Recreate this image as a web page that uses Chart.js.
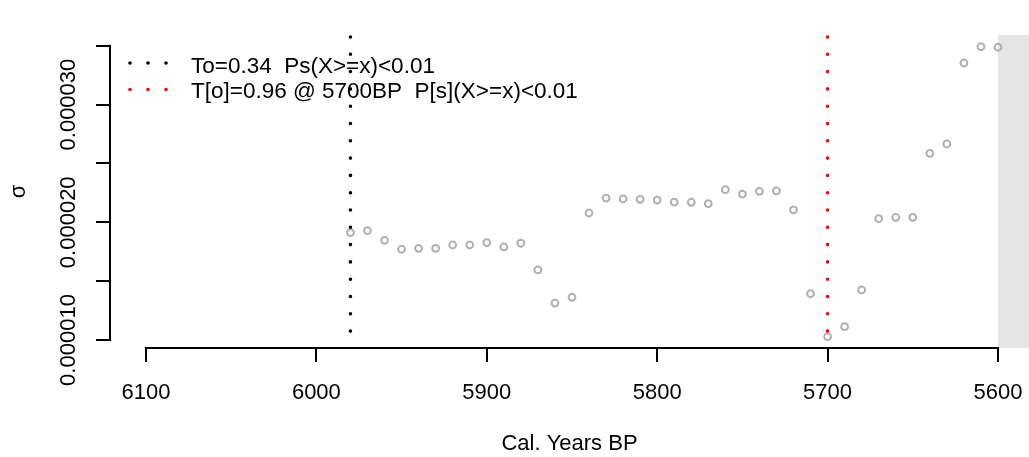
<!DOCTYPE html>
<html>
<head>
<meta charset="utf-8">
<script src="https://cdn.jsdelivr.net/npm/chart.js@4.4.0/dist/chart.umd.min.js"></script>
<style>
  html, body { margin: 0; padding: 0; background: #fff; }
  #wrap { width: 1029px; height: 457px; }
</style>
</head>
<body>
<div id="wrap"><canvas id="sigmaChart" width="1029" height="457"></canvas></div>
<script>
// sigma per 10-year step (cal. years BP)
const years = [5980, 5970, 5960, 5950, 5940, 5930, 5920, 5910, 5900, 5890,
               5880, 5870, 5860, 5850, 5840, 5830, 5820, 5810, 5800, 5790,
               5780, 5770, 5760, 5750, 5740, 5730, 5720, 5710, 5700, 5690,
               5680, 5670, 5660, 5650, 5640, 5630, 5620, 5610, 5600];
const sigma = [1.912e-5, 1.929e-5, 1.847e-5, 1.771e-5, 1.779e-5, 1.779e-5, 1.807e-5, 1.807e-5, 1.827e-5, 1.790e-5,
               1.822e-5, 1.595e-5, 1.314e-5, 1.363e-5, 2.079e-5, 2.206e-5, 2.198e-5, 2.195e-5, 2.189e-5, 2.172e-5,
               2.170e-5, 2.158e-5, 2.277e-5, 2.240e-5, 2.263e-5, 2.266e-5, 2.105e-5, 1.393e-5, 1.028e-5, 1.113e-5,
               1.425e-5, 2.031e-5, 2.042e-5, 2.042e-5, 2.586e-5, 2.665e-5, 3.353e-5, 3.492e-5, 3.487e-5];

const xTicks = [6100, 6000, 5900, 5800, 5700, 5600];
const yTicks = [0.000010, 0.000015, 0.000020, 0.000025, 0.000030, 0.000035];
const yTickLabels = ['0.000010', '', '0.000020', '', '0.000030', ''];

const markerYears = [5980, 5700];
const markerColors = ['#000000', '#ff0000'];
const legendLabels = ['To=0.34  Ps(X>=x)<0.01', 'T[o]=0.96 @ 5700BP  P[s](X>=x)<0.01'];
const shadeFrom = 5600;

const xRange = [5581.8, 6121.1];
const yRange = [0.00000932, 0.00003591];

const FONT = '"Liberation Sans", Arial, Helvetica, sans-serif';
Chart.defaults.font.family = FONT;
Chart.defaults.font.size = 22;
Chart.defaults.color = '#000';

// R-style axes, grey band and legend
const rDecor = {
    id: 'rDecor',
    beforeDatasetsDraw(chart) {
        const {ctx, chartArea, scales: {x}} = chart;
        const xs = x.getPixelForValue(shadeFrom);
        ctx.save();
        ctx.fillStyle = '#e5e5e5';
        ctx.fillRect(xs, chartArea.top, chartArea.right - xs, chartArea.bottom - chartArea.top);
        ctx.restore();
    },
    afterDraw(chart) {
        const {ctx, chartArea, scales: {x, y}} = chart;
        ctx.save();
        ctx.strokeStyle = '#000';
        ctx.lineWidth = 2;
        // x axis line spans first to last tick
        ctx.beginPath();
        ctx.moveTo(x.getPixelForValue(xTicks[0]) - 1, chartArea.bottom);
        ctx.lineTo(x.getPixelForValue(xTicks[xTicks.length - 1]) + 1, chartArea.bottom);
        ctx.stroke();
        // y axis line
        ctx.beginPath();
        ctx.moveTo(chartArea.left, y.getPixelForValue(yTicks[0]) + 1);
        ctx.lineTo(chartArea.left, y.getPixelForValue(yTicks[yTicks.length - 1]) - 1);
        ctx.stroke();

        // rotated y tick labels
        ctx.fillStyle = '#000';
        ctx.font = '22px ' + FONT;
        ctx.textAlign = 'center';
        ctx.textBaseline = 'middle';
        yTicks.forEach((v, i) => {
            if (!yTickLabels[i]) return;
            ctx.save();
            ctx.translate(69, y.getPixelForValue(v));
            ctx.rotate(-Math.PI / 2);
            ctx.fillText(yTickLabels[i], 0, 0);
            ctx.restore();
        });

        // legend
        ctx.font = '22.5px ' + FONT;
        ctx.textAlign = 'left';
        ctx.textBaseline = 'alphabetic';
        legendLabels.forEach((label, i) => {
            const rowY = 63 + i * 26.5;
            ctx.fillStyle = markerColors[i];
            [130, 148, 166].forEach(dx => {
                ctx.beginPath();
                ctx.arc(dx, rowY, 1.8, 0, Math.PI * 2);
                ctx.fill();
            });
            ctx.fillStyle = '#000';
            ctx.fillText(label, 191, 72.7 + i * 25.6);
        });
        ctx.restore();
    }
};

const markerSets = markerYears.map((yr, i) => ({
    label: legendLabels[i],
    data: [{x: yr, y: yRange[1]}, {x: yr, y: yRange[0]}],
    showLine: true,
    borderColor: markerColors[i],
    borderWidth: 3.6,
    borderDash: [0, 17.3],
    borderDashOffset: -2,
    borderCapStyle: 'round',
    pointRadius: 0,
    clip: 4
}));

const ctx = document.getElementById('sigmaChart').getContext('2d');
const sigmaChart = new Chart(ctx, {
    type: 'scatter',
    data: {
        datasets: [
            ...markerSets,
            {
                label: 'sigma',
                data: years.map((yr, i) => ({x: yr, y: sigma[i]})),
                borderColor: '#b0b0b0',
                backgroundColor: 'rgba(0,0,0,0)',
                pointRadius: 3.4,
                borderWidth: 2,
                pointStyle: 'circle',
                showLine: false
            }
        ]
    },
    options: {
        responsive: false,
        animation: false,
        events: [],
        devicePixelRatio: 1,
        layout: { autoPadding: false, padding: { top: 35, left: 0, right: 0, bottom: 0 } },
        plugins: {
            legend: { display: false },
            tooltip: { enabled: false }
        },
        scales: {
            x: {
                type: 'linear',
                reverse: true,
                min: xRange[0],
                max: xRange[1],
                afterBuildTicks: s => { s.ticks = xTicks.map(v => ({value: v})); },
                afterFit: s => { s.height = 109; s.paddingLeft = 0; s.paddingRight = 0; },
                grid: { drawOnChartArea: false, drawTicks: true, tickLength: 14, color: '#000', lineWidth: 2 },
                border: { display: false },
                ticks: { color: '#000', padding: 18, maxRotation: 0, autoSkip: false, callback: v => String(v) },
                title: { display: true, text: 'Cal. Years BP', color: '#000', font: { size: 22, lineHeight: 1 }, padding: { top: 0, bottom: 2 } }
            },
            y: {
                type: 'linear',
                min: yRange[0],
                max: yRange[1],
                afterBuildTicks: s => { s.ticks = yTicks.map(v => ({value: v})); },
                afterFit: s => { s.width = 110; s.paddingTop = 0; s.paddingBottom = 0; },
                grid: { drawOnChartArea: false, drawTicks: true, tickLength: 14, color: '#000', lineWidth: 2 },
                border: { display: false },
                ticks: { display: false },
                title: { display: true, text: 'σ', color: '#000', font: { size: 22, lineHeight: 1 }, padding: { top: 8, bottom: 0 } }
            }
        }
    },
    plugins: [rDecor]
});
</script>
</body>
</html>
